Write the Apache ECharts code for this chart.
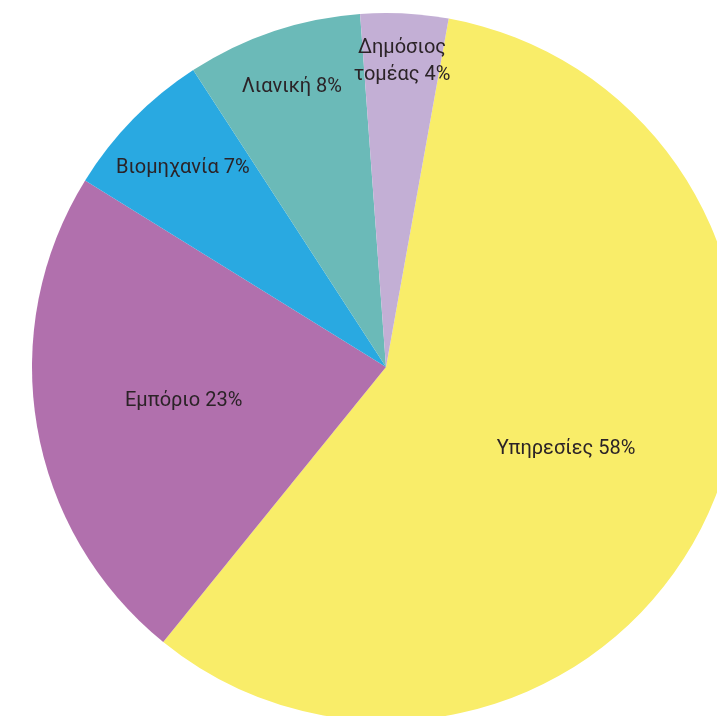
<!DOCTYPE html>
<html>
<head>
<meta charset="utf-8">
<title>Κατανομή ανά τομέα</title>
<script src="https://cdn.jsdelivr.net/npm/echarts@6/dist/echarts.min.js"></script>
<style>
  html, body { margin: 0; padding: 0; background: #ffffff; }
  #chart { width: 717px; height: 716px; }
</style>
</head>
<body>
<div id="chart"></div>
<script>
// Sector names (one per slice, drawn clockwise) and their shares in percent
const sectors = ['Υπηρεσίες', 'Εμπόριο', 'Βιομηχανία', 'Λιανική', 'Δημόσιος\nτομέας'];
const shares = [58, 23, 7, 8, 4];

// Slice colours, in the same order as the sectors
const sliceColors = ['#f9ed69', '#b170ad', '#29a9e1', '#6bbab8', '#c3afd5'];

// How far out each label sits, as a fraction of the radius
const labelRadius = [0.55, 0.57, 0.79, 0.82, 0.85];

const CX = 386, CY = 367, R = 354;

const chart = echarts.init(document.getElementById('chart'), null, { renderer: 'canvas' });

chart.setOption({
  animation: false,
  backgroundColor: '#ffffff',
  series: [{
    type: 'pie',
    center: [CX, CY],
    radius: [0, R],
    startAngle: 79.8,
    clockwise: true,
    silent: true,
    avoidLabelOverlap: false,
    itemStyle: { borderWidth: 0 },
    label: {
      show: true,
      position: 'inside',
      color: '#2b2327',
      fontFamily: 'Roboto, "Noto Sans", sans-serif',
      fontSize: 20,
      lineHeight: 27,
      formatter: p => p.name + ' ' + p.value + '%'
    },
    labelLine: { show: false },
    // Inside labels start at half the radius; push each one out along its own ray
    labelLayout: function (params) {
      const rect = params.labelRect;
      const lx = rect.x + rect.width / 2;
      const ly = rect.y + rect.height / 2;
      const k = labelRadius[params.dataIndex] / 0.5 - 1;
      return { dx: (lx - CX) * k, dy: (ly - CY) * k };
    },
    data: sectors.map((name, i) => ({
      name: name,
      value: shares[i],
      itemStyle: { color: sliceColors[i] }
    }))
  }]
});
</script>
</body>
</html>
